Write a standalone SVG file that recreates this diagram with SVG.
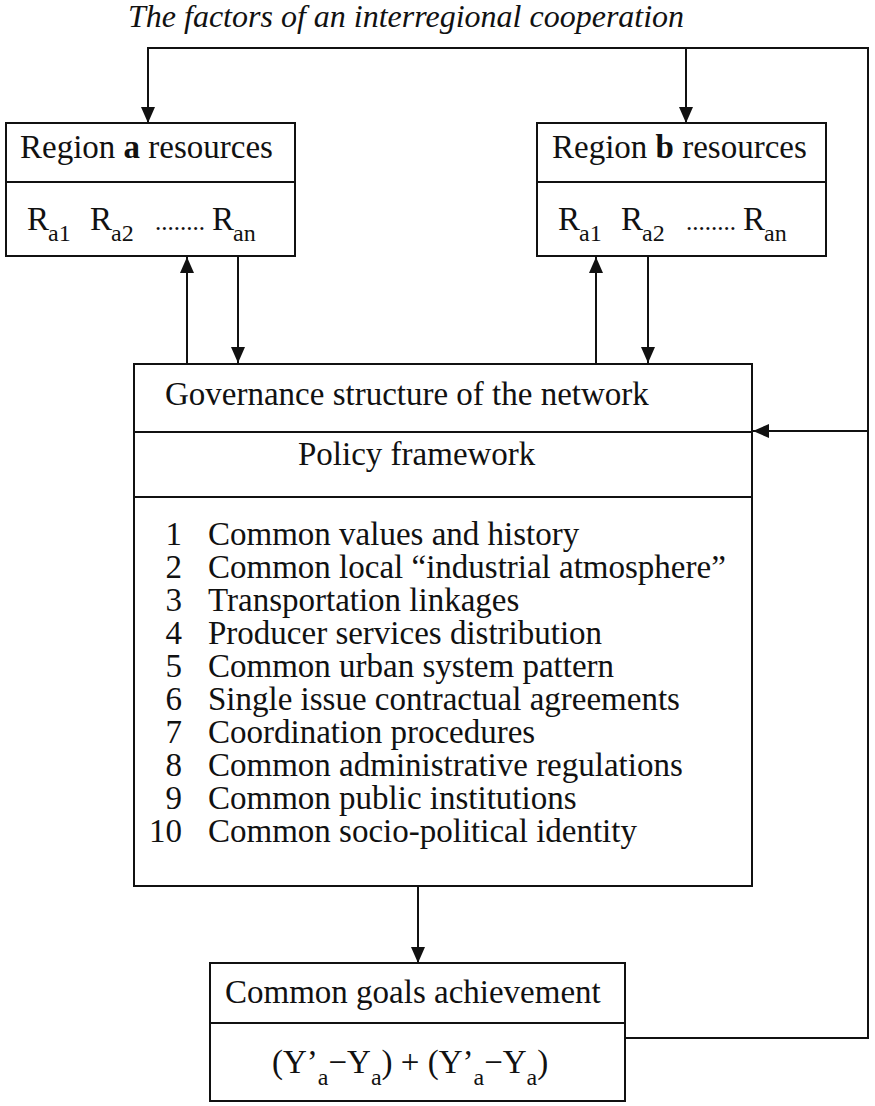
<svg xmlns="http://www.w3.org/2000/svg" width="875" height="1106" viewBox="0 0 875 1106">
<style>
text{font-family:"Liberation Serif","Times New Roman",serif;font-size:33px;fill:#111}
.box{fill:#fff;stroke:#111;stroke-width:2}
.ln{fill:none;stroke:#111;stroke-width:2}
.sub{font-size:24px}
.dots{font-size:25px}
.title{font-style:italic;font-size:32px}
</style>
<defs>
<marker id="ah" markerWidth="16" markerHeight="14" refX="16" refY="7" orient="auto" markerUnits="userSpaceOnUse">
<path d="M0,0 L16,7 L0,14 z" fill="#111"/>
</marker>
</defs>
<rect width="875" height="1106" fill="#fff"/>
<text class="title" x="128" y="27">The factors of an interregional cooperation</text>
<g id="connectors">
<polyline class="ln" points="625,1038 868,1038 868,48 148,48 148,123" marker-end="url(#ah)"/>
<line class="ln" x1="686" y1="48" x2="686" y2="123" marker-end="url(#ah)"/>
<line class="ln" x1="868" y1="431" x2="753" y2="431" marker-end="url(#ah)"/>
<line class="ln" x1="187" y1="364" x2="187" y2="257" marker-end="url(#ah)"/>
<line class="ln" x1="238" y1="256" x2="238" y2="363" marker-end="url(#ah)"/>
<line class="ln" x1="596" y1="364" x2="596" y2="257" marker-end="url(#ah)"/>
<line class="ln" x1="648" y1="256" x2="648" y2="363" marker-end="url(#ah)"/>
<line class="ln" x1="418" y1="886" x2="418" y2="963" marker-end="url(#ah)"/>
</g>
<g id="region-a">
<rect class="box" x="6" y="123" width="289" height="133"/>
<line class="ln" x1="6" y1="182" x2="295" y2="182"/>
<text x="20" y="158">Region <tspan font-weight="bold">a</tspan> resources</text>
<text x="27" y="230">R</text>
<text class="sub" x="48" y="241">a1</text>
<text x="90" y="230">R</text>
<text class="sub" x="111" y="241">a2</text>
<text class="dots" x="155" y="230">........</text>
<text x="212" y="230">R</text>
<text class="sub" x="233" y="241">an</text>
</g>
<g id="region-b">
<rect class="box" x="537" y="123" width="289" height="133"/>
<line class="ln" x1="537" y1="182" x2="826" y2="182"/>
<text x="552" y="158">Region <tspan font-weight="bold">b</tspan> resources</text>
<text x="558" y="230">R</text>
<text class="sub" x="579" y="241">a1</text>
<text x="621" y="230">R</text>
<text class="sub" x="642" y="241">a2</text>
<text class="dots" x="686" y="230">........</text>
<text x="743" y="230">R</text>
<text class="sub" x="764" y="241">an</text>
</g>
<g id="governance">
<rect class="box" x="134" y="364" width="618" height="522"/>
<line class="ln" x1="134" y1="432" x2="752" y2="432"/>
<line class="ln" x1="134" y1="497" x2="752" y2="497"/>
<text x="165" y="405">Governance structure of the network</text>
<text x="298" y="465">Policy framework</text>
<g text-anchor="end">
<text x="182" y="545">1</text>
<text x="182" y="578">2</text>
<text x="182" y="611">3</text>
<text x="182" y="644">4</text>
<text x="182" y="677">5</text>
<text x="182" y="710">6</text>
<text x="182" y="743">7</text>
<text x="182" y="776">8</text>
<text x="182" y="809">9</text>
<text x="182" y="842">10</text>
</g>
<text x="208" y="545">Common values and history</text>
<text x="208" y="578">Common local “industrial atmosphere”</text>
<text x="208" y="611">Transportation linkages</text>
<text x="208" y="644">Producer services distribution</text>
<text x="208" y="677">Common urban system pattern</text>
<text x="208" y="710">Single issue contractual agreements</text>
<text x="208" y="743">Coordination procedures</text>
<text x="208" y="776">Common administrative regulations</text>
<text x="208" y="809">Common public institutions</text>
<text x="208" y="842">Common socio-political identity</text>
</g>
<g id="goals">
<rect class="box" x="210" y="963" width="415" height="138"/>
<line class="ln" x1="210" y1="1023" x2="625" y2="1023"/>
<text x="225" y="1003">Common goals achievement</text>
<text x="272" y="1073">(Y’<tspan class="sub" dy="12">a</tspan><tspan dy="-12">−Y</tspan><tspan class="sub" dy="12">a</tspan><tspan dy="-12">) + (Y’</tspan><tspan class="sub" dy="12">a</tspan><tspan dy="-12">−Y</tspan><tspan class="sub" dy="12">a</tspan><tspan dy="-12">)</tspan></text>
</g>
</svg>
